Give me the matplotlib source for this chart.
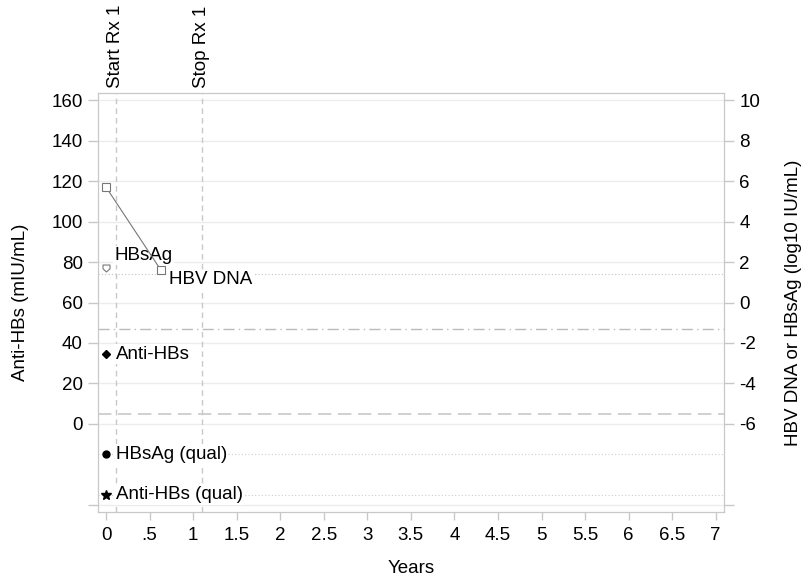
import matplotlib
matplotlib.use('Agg')
import matplotlib.pyplot as plt
from matplotlib.path import Path
from matplotlib.ticker import FuncFormatter

plt.rcParams['font.family'] = ['Liberation Sans', 'DejaVu Sans']

# data
dna_years = [0, 0.63]
hbv_dna = [5.7, 1.6]          # log10 IU/mL
hbsag_years = [0]
hbsag = [1.7]                 # log10 IU/mL
anti_years = [0]
anti_hbs = [34.5]             # mIU/mL
qual_years = [0]
hbsag_qual_row = -15
anti_qual_row = -35

rx_start = 0.11
rx_stop = 1.10
dna_lloq = 1.4
hbsag_lloq = -1.3
anti_cut = 5

left_ticks = [0, 20, 40, 60, 80, 100, 120, 140, 160]
right_ticks = [-6, -4, -2, 0, 2, 4, 6, 8, 10]
x_ticks = [0, 0.5, 1, 1.5, 2, 2.5, 3, 3.5, 4, 4.5, 5, 5.5, 6, 6.5, 7]

GRID = '#ececec'
SPINE = '#c8c8c8'
REF = '#c8c8c8'
FS = 13.5

# shield marker for HBsAg
shield = Path([(-1, 1), (1, 1), (1, -0.1), (0, -1), (-1, -0.1), (-1, 1)],
              [Path.MOVETO, Path.LINETO, Path.LINETO, Path.LINETO, Path.LINETO, Path.CLOSEPOLY])

fig = plt.figure(figsize=(8.01, 5.83), dpi=100)
ax = fig.add_axes([98 / 801, 71 / 583, 626 / 801, 419 / 583])
ax2 = ax.twinx()

ylo, yhi = -43.5, 163.5
ax.set_ylim(ylo, yhi)
ax2.set_ylim(ylo / 10 - 6, yhi / 10 - 6)
ax.set_xlim(-0.092, 7.095)

# grid lines
for t in left_ticks + [-40]:
    ax.axhline(t, color=GRID, lw=1, zorder=0)

# reference lines
ax.axvline(rx_start, color=REF, lw=1, ls=(0, (4, 3)), zorder=1)
ax.axvline(rx_stop, color=REF, lw=1, ls=(0, (4, 3)), zorder=1)
ax2.axhline(dna_lloq, color='#c4c4c4', lw=0.8, ls=(0, (1, 2)), zorder=1)
ax2.axhline(hbsag_lloq, color='#bbbbbb', lw=1, ls=(0, (8, 3, 1, 3)), zorder=1)
ax.axhline(anti_cut, color='#c8c8c8', lw=1.2, ls=(0, (8, 4)), zorder=1)
ax.axhline(hbsag_qual_row, color='#cccccc', lw=0.8, ls=(0, (1, 2)), zorder=1)
ax.axhline(anti_qual_row, color='#cccccc', lw=0.8, ls=(0, (1, 2)), zorder=1)

for x, lab in [(rx_start, 'Start Rx 1'), (rx_stop, 'Stop Rx 1')]:
    ax.text(x, 1.012, lab, transform=ax.get_xaxis_transform(), rotation=90,
            ha='center', va='bottom', fontsize=FS)

# series
ax2.plot(dna_years, hbv_dna, color='#777777', lw=0.8, marker='s', ms=5.5,
         mfc='white', mec='#777777', mew=0.8, zorder=5)
ax2.plot(hbsag_years, hbsag, ls='none', marker=shield, ms=5,
         mfc='white', mec='#777777', mew=0.8, zorder=5)
ax.plot(anti_years, anti_hbs, ls='none', marker='D', ms=4.5, color='black', zorder=5)
ax.plot(qual_years, [hbsag_qual_row], ls='none', marker='o', ms=5, color='black', zorder=5)
ax.plot(qual_years, [anti_qual_row], ls='none', marker='*', ms=7, color='black', zorder=5)

box = dict(facecolor='white', edgecolor='none', pad=1)
ax2.annotate('HBsAg', (hbsag_years[0], hbsag[0]), xytext=(6, 9), textcoords='offset points',
             ha='left', va='center', fontsize=FS, bbox=box, zorder=4)
ax2.annotate('HBV DNA', (dna_years[-1], hbv_dna[-1]), xytext=(6, -7), textcoords='offset points',
             ha='left', va='center', fontsize=FS, bbox=box, zorder=4)
ax.annotate('Anti-HBs', (anti_years[0], anti_hbs[0]), xytext=(7, 0), textcoords='offset points',
            ha='left', va='center', fontsize=FS, bbox=box, zorder=4)
ax.annotate('HBsAg (qual)', (qual_years[0], hbsag_qual_row), xytext=(7, 0), textcoords='offset points',
            ha='left', va='center', fontsize=FS, bbox=box, zorder=4)
ax.annotate('Anti-HBs (qual)', (qual_years[0], anti_qual_row), xytext=(7, 0), textcoords='offset points',
            ha='left', va='center', fontsize=FS, bbox=box, zorder=4)

# axes styling
ax.set_yticks(left_ticks + [-40])
ax.set_yticklabels([str(t) for t in left_ticks] + [''])
ax2.set_yticks(right_ticks + [-10])
ax2.set_yticklabels([str(t) for t in right_ticks] + [''])
ax.set_xticks(x_ticks)
ax.xaxis.set_major_formatter(FuncFormatter(lambda v, p: ('%g' % v).lstrip('0') if 0 < v < 1 else '%g' % v))

for a in (ax, ax2):
    for s in a.spines.values():
        s.set_color(SPINE)
    a.tick_params(axis='y', colors=SPINE, labelcolor='black', labelsize=FS, length=7, width=1, pad=4)
ax.tick_params(axis='x', colors=SPINE, labelcolor='black', labelsize=FS, length=5.5, width=1, pad=5)

ax.set_xlabel('Years', fontsize=FS, labelpad=12)
ax.set_ylabel('Anti-HBs (mIU/mL)', fontsize=FS, labelpad=16)
ax2.set_ylabel('HBV DNA or HBsAg (log10 IU/mL)', fontsize=FS, labelpad=18)

fig.savefig('out.png', dpi=100)
